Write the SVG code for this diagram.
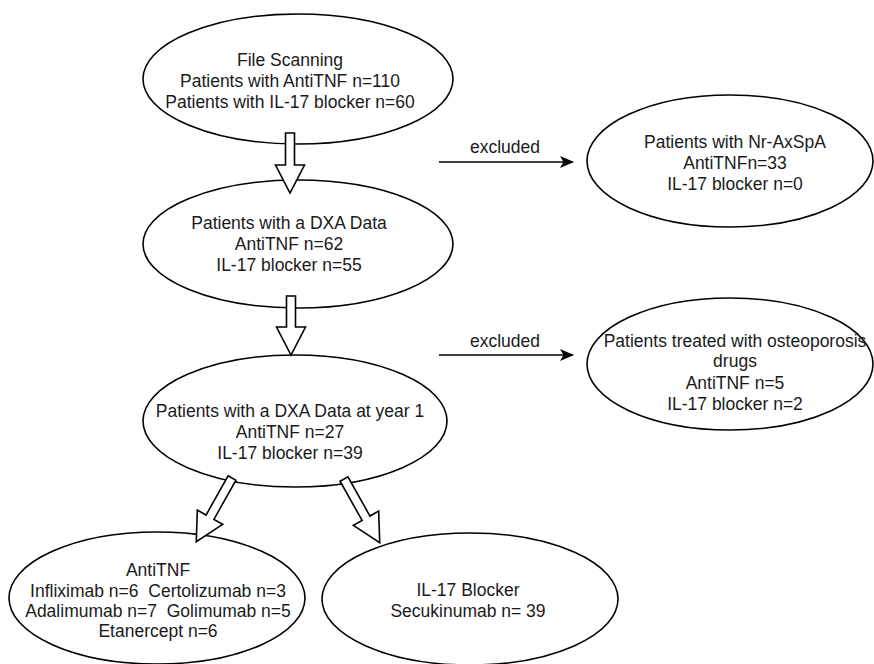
<svg xmlns="http://www.w3.org/2000/svg" width="874" height="664" viewBox="0 0 874 664">
<defs>
<style>
.n ellipse{fill:#fff;stroke:#000;stroke-width:1.6}
.t{font-family:"Liberation Sans",Arial,sans-serif;font-size:17.5px;fill:#1a1a1a;text-anchor:middle;white-space:pre}
.blk{fill:#fff;stroke:#000;stroke-width:1.6;stroke-linejoin:miter}
.ln{stroke:#000;stroke-width:1.6;fill:none}
</style>
<marker id="ah" viewBox="0 0 14 12" refX="13" refY="6" markerWidth="14" markerHeight="12" markerUnits="userSpaceOnUse" orient="auto">
<path d="M0,0 L14,6 L0,12 L3.5,6 Z" fill="#000"/>
</marker>
</defs>
<rect width="874" height="664" fill="#fff"/>
<g id="n1" class="n">
<ellipse cx="298" cy="79" rx="155" ry="65"/>
<text class="t" x="290" y="66">File Scanning</text>
<text class="t" x="290" y="87">Patients with AntiTNF n=110</text>
<text class="t" x="290" y="108">Patients with IL-17 blocker n=60</text>
</g>
<g id="n2" class="n">
<ellipse cx="298" cy="244" rx="155" ry="64"/>
<text class="t" x="289" y="229">Patients with a DXA Data</text>
<text class="t" x="289" y="250">AntiTNF n=62</text>
<text class="t" x="289" y="271">IL-17 blocker n=55</text>
</g>
<g id="n3" class="n">
<ellipse cx="730" cy="161" rx="143" ry="66"/>
<text class="t" x="735" y="148">Patients with Nr-AxSpA</text>
<text class="t" x="735" y="169">AntiTNFn=33</text>
<text class="t" x="735" y="190">IL-17 blocker n=0</text>
</g>
<g id="n4" class="n">
<ellipse cx="295" cy="421" rx="152" ry="66"/>
<text class="t" x="290" y="417">Patients with a DXA Data at year 1</text>
<text class="t" x="290" y="438">AntiTNF n=27</text>
<text class="t" x="290" y="459">IL-17 blocker n=39</text>
</g>
<g id="n5" class="n">
<ellipse cx="730" cy="364" rx="143" ry="66"/>
<text class="t" x="735" y="347">Patients treated with osteoporosis</text>
<text class="t" x="735" y="367">drugs</text>
<text class="t" x="735" y="389">AntiTNF n=5</text>
<text class="t" x="735" y="410">IL-17 blocker n=2</text>
</g>
<g id="n6" class="n">
<ellipse cx="157" cy="598" rx="148" ry="66"/>
<text class="t" x="158" y="576">AntiTNF</text>
<text class="t" x="158" y="597">Infliximab n=6  Certolizumab n=3</text>
<text class="t" x="158" y="617">Adalimumab n=7  Golimumab n=5</text>
<text class="t" x="158" y="637">Etanercept n=6</text>
</g>
<g id="n7" class="n">
<ellipse cx="470" cy="599" rx="148" ry="66"/>
<text class="t" x="468" y="596">IL-17 Blocker</text>
<text class="t" x="468" y="617">Secukinumab n= 39</text>
</g>
<g id="connectors">
<path class="blk" transform="translate(290,133)" d="M-4.5,0 L4.5,0 L4.5,32 L14.5,32 L0,60 L-14.5,32 L-4.5,32 Z"/>
<path class="blk" transform="translate(291,296)" d="M-4.5,0 L4.5,0 L4.5,31 L14.5,31 L0,59 L-14.5,31 L-4.5,31 Z"/>
<path class="blk" transform="translate(232,478) rotate(29.3)" d="M-4.5,0 L4.5,0 L4.5,45 L14.5,45 L0,73 L-14.5,45 L-4.5,45 Z"/>
<path class="blk" transform="translate(344,479) rotate(-29.3)" d="M-4.5,0 L4.5,0 L4.5,45 L14.5,45 L0,73 L-14.5,45 L-4.5,45 Z"/>
<line class="ln" x1="439" y1="162" x2="573" y2="162" marker-end="url(#ah)"/>
<text class="t" x="505" y="153">excluded</text>
<line class="ln" x1="439" y1="355" x2="573" y2="355" marker-end="url(#ah)"/>
<text class="t" x="505" y="347">excluded</text>
</g>
</svg>
